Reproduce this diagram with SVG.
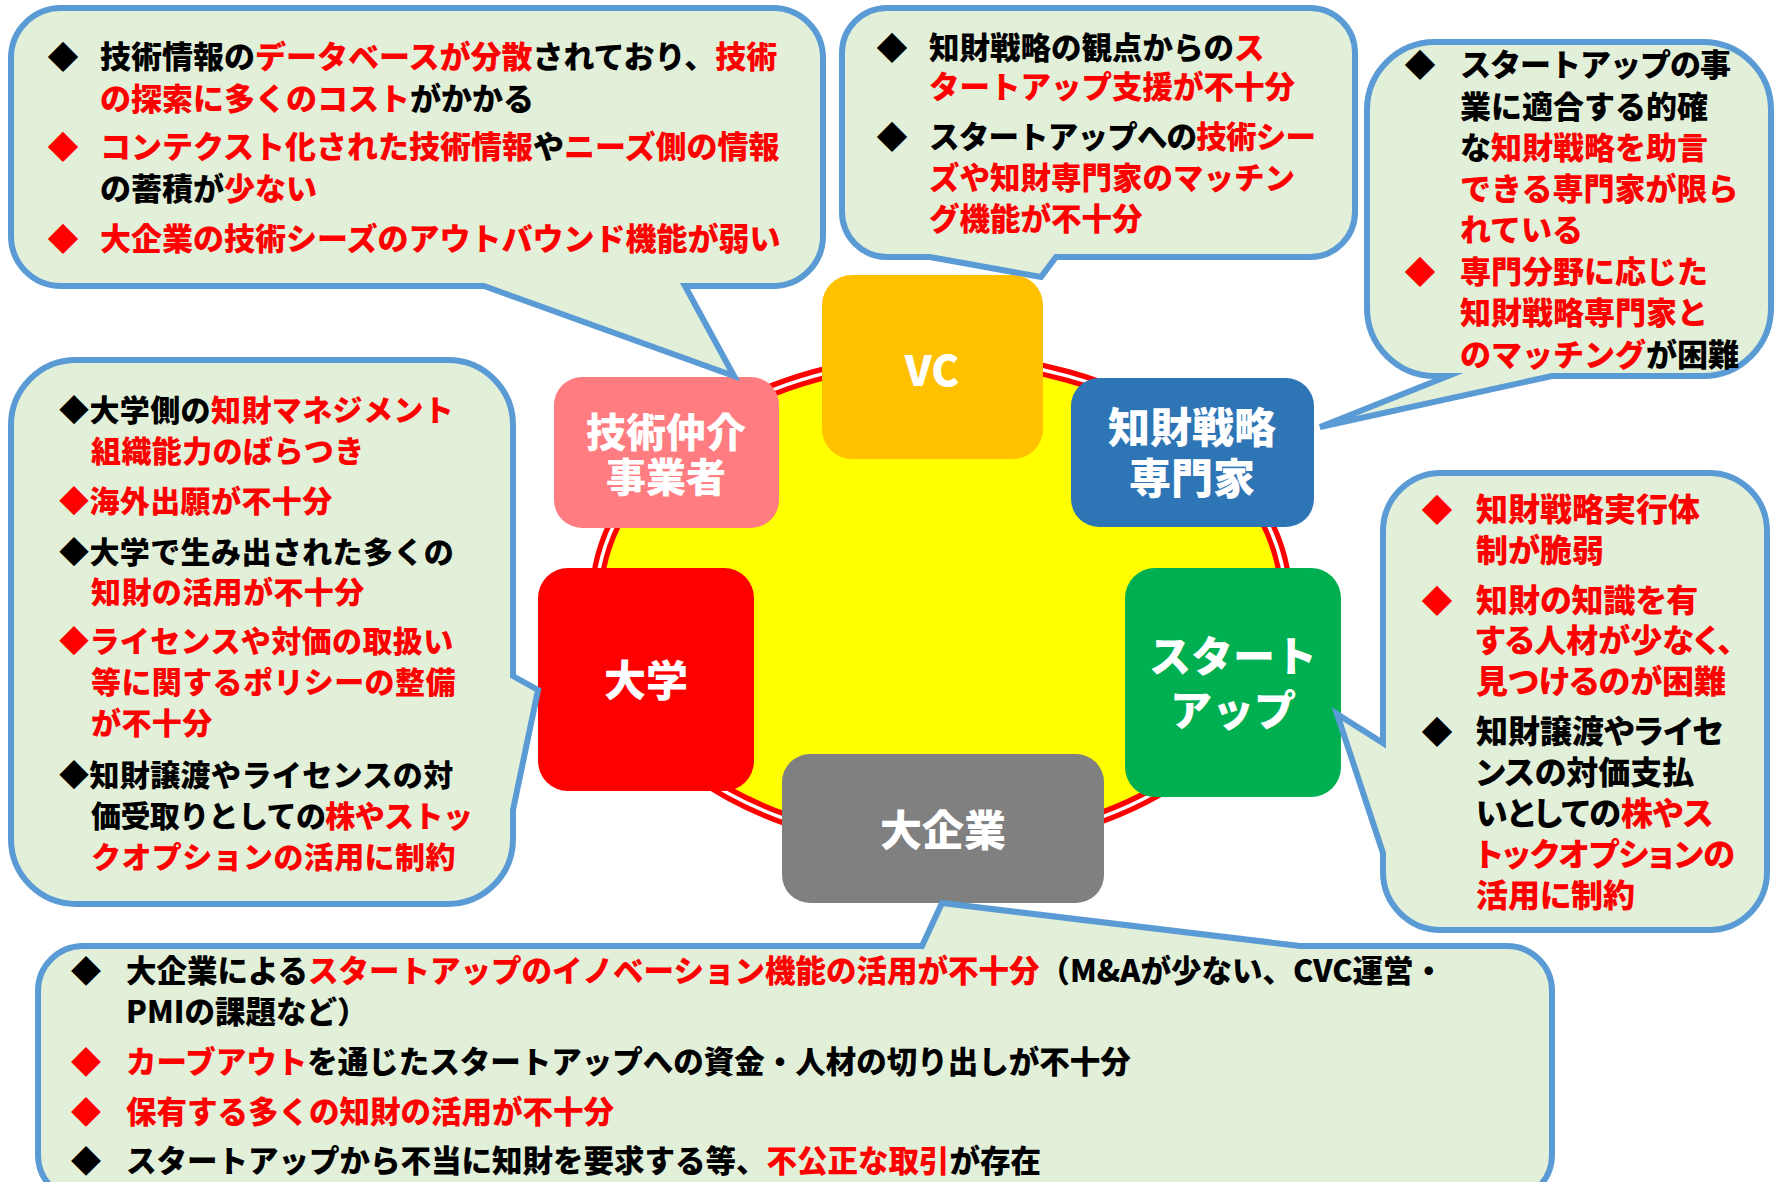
<svg xmlns="http://www.w3.org/2000/svg" width="1777" height="1182" viewBox="0 0 1777 1182">
<style>
.bub{fill:#E2F0D9;stroke:#5B9BD5;stroke-width:6;stroke-miterlimit:12;}
.t{font-family:"Noto Sans CJK JP","Noto Sans CJK SC",sans-serif;font-weight:900;font-size:31px;fill:#000;}
.r{fill:#FF0000;}
.k{fill:#000;}
.d{text-anchor:middle;}
.tm{font-size:30.5px;}
.lm{font-size:30px;}
.rm{font-size:32px;font-feature-settings:"palt";}
.bt{font-size:30.5px;}
.lbl{font-family:"Noto Sans CJK JP","Noto Sans CJK SC",sans-serif;font-weight:900;fill:#fff;text-anchor:middle;font-size:42px;}
</style>
<rect width="1777" height="1182" fill="#fff"/>
<g id="ring">
<ellipse cx="941" cy="602" rx="345" ry="243" fill="#FFFF00" stroke="#FF0000" stroke-width="14"/>
<ellipse cx="941" cy="602" rx="345" ry="243" fill="none" stroke="#fff" stroke-width="3.5"/>
</g>
<g id="node-vc"><rect x="822" y="275" width="221" height="184" rx="30" fill="#FFC000"/><text class="lbl" x="932" y="386" font-size="46">VC</text></g>
<g id="node-broker"><rect x="554" y="377" width="225" height="151" rx="28" fill="#FF7C80"/><text class="lbl" x="666" y="447" style="font-size:40px">技術仲介</text><text class="lbl" x="666" y="492" style="font-size:40px">事業者</text></g>
<g id="node-ipexpert"><rect x="1071" y="378" width="243" height="149" rx="28" fill="#2E75B6"/><text class="lbl" x="1192" y="443">知財戦略</text><text class="lbl" x="1192" y="494">専門家</text></g>
<g id="node-univ"><rect x="538" y="568" width="216" height="223" rx="30" fill="#FF0000"/><text class="lbl" x="646" y="696">大学</text></g>
<g id="node-startup"><rect x="1125" y="568" width="216" height="229" rx="30" fill="#00B050"/><text class="lbl" x="1233" y="672">スタート</text><text class="lbl" x="1233" y="726">アップ</text></g>
<g id="node-corp"><rect x="782" y="754" width="322" height="149" rx="28" fill="#808080"/><text class="lbl" x="943" y="846">大企業</text></g>

<g id="callout-broker">
<path class="bub" d="M61,8 H773 A50,50 0 0 1 823,58 V236 A50,50 0 0 1 773,286 H685 L734,376 L484,286 H61 A50,50 0 0 1 11,236 V58 A50,50 0 0 1 61,8 Z"/>
<text class="t d" x="63" y="68">◆</text>
<text class="t" x="100" y="68">技術情報の<tspan class="r">データベースが分散</tspan>されており、<tspan class="r">技術</tspan></text>
<text class="t" x="100" y="110"><tspan class="r">の探索に多くのコスト</tspan>がかかる</text>
<text class="t d r" x="63" y="158">◆</text>
<text class="t" x="100" y="158"><tspan class="r">コンテクスト化された技術情報</tspan>や<tspan class="r">ニーズ側の情報</tspan></text>
<text class="t" x="100" y="200">の蓄積が<tspan class="r">少ない</tspan></text>
<text class="t d r" x="63" y="250">◆</text>
<text class="t r" x="100" y="250">大企業の技術シーズのアウトバウンド機能が弱い</text>
</g>

<g id="callout-vc">
<path class="bub" d="M887,8 H1310 A45,45 0 0 1 1355,53 V212 A45,45 0 0 1 1310,257 H1056 L1041,277 L930,257 H887 A45,45 0 0 1 842,212 V53 A45,45 0 0 1 887,8 Z"/>
<text class="t d" x="892" y="59">◆</text>
<text class="t tm" x="929" y="59">知財戦略の観点からの<tspan class="r">ス</tspan></text>
<text class="t tm r" x="929" y="98">タートアップ支援が不十分</text>
<text class="t d" x="892" y="148">◆</text>
<text class="t tm" x="929" y="148" letter-spacing="-0.8">スタートアップへの<tspan class="r">技術シー</tspan></text>
<text class="t tm r" x="929" y="189">ズや知財専門家のマッチン</text>
<text class="t tm r" x="929" y="230">グ機能が不十分</text>
</g>

<g id="callout-ipexpert">
<path class="bub" d="M1435,42 H1703 A68,68 0 0 1 1771,110 V308 A68,68 0 0 1 1703,376 H1552 L1320,427 L1448,376 H1435 A68,68 0 0 1 1367,308 V110 A68,68 0 0 1 1435,42 Z"/>
<text class="t d" x="1420" y="76">◆</text>
<text class="t" x="1460" y="76" letter-spacing="-1">スタートアップの事</text>
<text class="t" x="1460" y="118">業に適合する的確</text>
<text class="t" x="1460" y="159">な<tspan class="r">知財戦略を助言</tspan></text>
<text class="t r" x="1460" y="200">できる専門家が限ら</text>
<text class="t r" x="1460" y="241">れている</text>
<text class="t d r" x="1420" y="283">◆</text>
<text class="t r" x="1460" y="283">専門分野に応じた</text>
<text class="t r" x="1460" y="324">知財戦略専門家と</text>
<text class="t" x="1460" y="366"><tspan class="r">のマッチング</tspan>が困難</text>
</g>

<g id="callout-univ">
<path class="bub" d="M76,360 H448 A65,65 0 0 1 513,425 V676 L538,690 L513,810 V839 A65,65 0 0 1 448,904 H76 A65,65 0 0 1 11,839 V425 A65,65 0 0 1 76,360 Z"/>
<text class="t lm" x="59" y="421" letter-spacing="0.4">◆大学側の<tspan class="r">知財マネジメント</tspan></text>
<text class="t lm r" x="91" y="462" letter-spacing="0.4">組織能力のばらつき</text>
<text class="t lm r" x="59" y="512" letter-spacing="0.4">◆海外出願が不十分</text>
<text class="t lm" x="59" y="563" letter-spacing="0.4">◆大学で生み出された多くの</text>
<text class="t lm r" x="91" y="603" letter-spacing="0.4">知財の活用が不十分</text>
<text class="t lm r" x="59" y="652" letter-spacing="0.4">◆ライセンスや対価の取扱い</text>
<text class="t lm r" x="91" y="693" letter-spacing="0.4">等に関するポリシーの整備</text>
<text class="t lm r" x="91" y="734" letter-spacing="0.4">が不十分</text>
<text class="t lm" x="59" y="786" letter-spacing="0.4">◆知財譲渡やライセンスの対</text>
<text class="t lm" x="91" y="827" letter-spacing="-0.6">価受取りとしての<tspan class="r">株やストッ</tspan></text>
<text class="t lm r" x="91" y="868" letter-spacing="0.4">クオプションの活用に制約</text>
</g>

<g id="callout-startup">
<path class="bub" d="M1441,473 H1709 A58,58 0 0 1 1767,531 V872 A58,58 0 0 1 1709,930 H1441 A58,58 0 0 1 1383,872 V853 L1337,714 L1383,743 V531 A58,58 0 0 1 1441,473 Z"/>
<text class="t d r" x="1437" y="521">◆</text>
<text class="t rm r" x="1476" y="521">知財戦略実行体</text>
<text class="t rm r" x="1476" y="562">制が脆弱</text>
<text class="t d r" x="1437" y="612">◆</text>
<text class="t rm r" x="1476" y="612">知財の知識を有</text>
<text class="t rm r" x="1476" y="652">する人材が少なく、</text>
<text class="t rm r" x="1476" y="693">見つけるのが困難</text>
<text class="t d" x="1437" y="743">◆</text>
<text class="t rm" x="1476" y="743">知財譲渡やライセ</text>
<text class="t rm" x="1476" y="784">ンスの対価支払</text>
<text class="t rm" x="1476" y="825">いとしての<tspan class="r">株やス</tspan></text>
<text class="t rm r" x="1476" y="866">トックオプションの</text>
<text class="t rm r" x="1476" y="907">活用に制約</text>
</g>

<g id="callout-corp">
<path class="bub" d="M83,946 H922 L942,903 L1300,946 H1507 A45,45 0 0 1 1552,991 V1155 A45,45 0 0 1 1507,1200 H83 A45,45 0 0 1 38,1155 V991 A45,45 0 0 1 83,946 Z"/>
<text class="t bt d" x="86" y="982">◆</text>
<text class="t bt" x="126" y="982">大企業による<tspan class="r">スタートアップのイノベーション機能の活用が不十分</tspan>（M&amp;Aが少ない、CVC運営・</text>
<text class="t bt" x="126" y="1023">PMIの課題など）</text>
<text class="t bt d r" x="86" y="1073">◆</text>
<text class="t bt" x="126" y="1073"><tspan class="r">カーブアウト</tspan>を通じたスタートアップへの資金・人材の切り出しが不十分</text>
<text class="t bt d r" x="86" y="1123">◆</text>
<text class="t bt r" x="126" y="1123">保有する多くの知財の活用が不十分</text>
<text class="t bt d" x="86" y="1172">◆</text>
<text class="t bt" x="126" y="1172">スタートアップから不当に知財を要求する等、<tspan class="r">不公正な取引</tspan>が存在</text>
</g>
</svg>
